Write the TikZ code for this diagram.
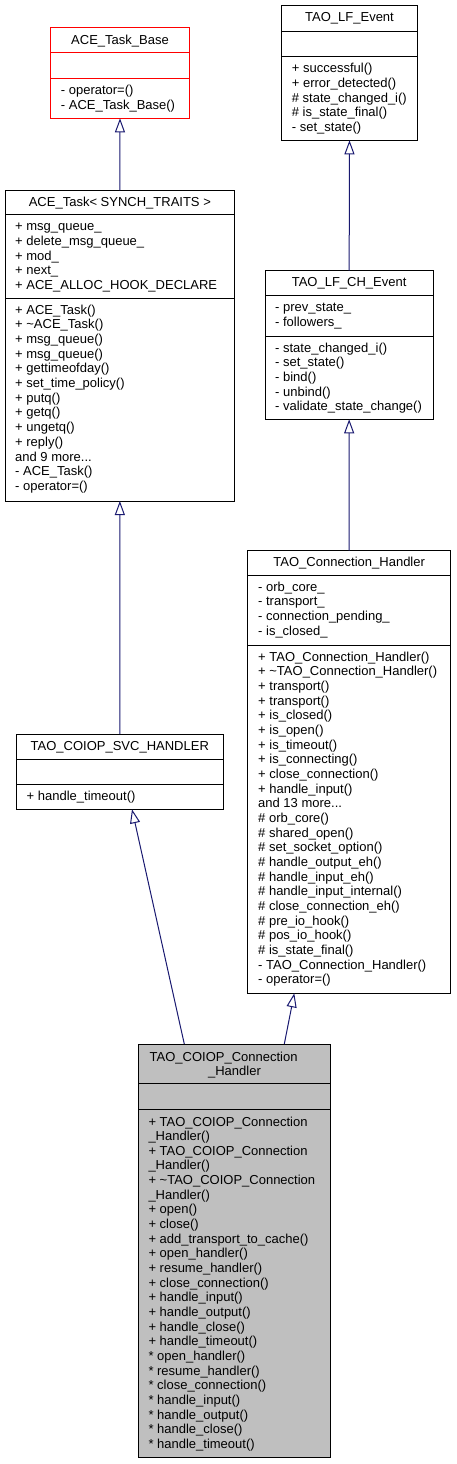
\documentclass[tikz,border=0pt]{standalone}
\usepackage{fontspec}
\setmainfont{Liberation Sans}
\usetikzlibrary{arrows.meta}
\definecolor{edgeblue}{HTML}{191970}
\definecolor{selfgray}{HTML}{BFBFBF}
\newcommand{\moredots}{...}
\tikzset{
  classbox/.style={draw, line width=1pt, inner sep=0pt, outer sep=0pt, anchor=north west},
  member/.style={anchor=base west, inner sep=0pt, font=\fontsize{13}{15}\selectfont},
  classname/.style={anchor=base, inner sep=0pt, font=\fontsize{13}{15}\selectfont},
  inherit/.style={draw=edgeblue, line width=1pt, -{Triangle[open, length=14pt, width=10pt]}},
}
\begin{document}
\begin{tikzpicture}[x=1pt, y=-1pt] %Diagrama de classes
\useasboundingbox (0,0) rectangle (456,1464);
	%ACE_Task_Base
\node[classbox, draw=red, minimum width=138.6pt, minimum height=90.3pt] (taskbase) at (50.7,28) {};
\draw[line width=1pt, red] (taskbase.west |- 0,52.7) -- (taskbase.east |- 0,52.7);
\draw[line width=1pt, red] (taskbase.west |- 0,78.7) -- (taskbase.east |- 0,78.7);
\node[classname] (taskbase-t) at (120,44.2) {ACE\_Task\_Base};
\foreach \m [count=\i from 0] in {- operator=(), - ACE\_Task\_Base()}
  \node[member] (taskbase-m\i) at (60.7,94.7+\i*14.67) {\m};
	%TAO_LF_Event
\node[classbox, minimum width=135.6pt, minimum height=134.6pt] (lfevent) at (281.7,5.7) {};
\draw[line width=1pt] (lfevent.west |- 0,31.7) -- (lfevent.east |- 0,31.7);
\draw[line width=1pt] (lfevent.west |- 0,56.7) -- (lfevent.east |- 0,56.7);
\node[classname] (lfevent-t) at (349.5,21.9) {TAO\_LF\_Event};
\foreach \m [count=\i from 0] in {+ successful(), + error\_detected(), \# state\_changed\_i(), \# is\_state\_final(), - set\_state()}
  \node[member] (lfevent-m\i) at (291.7,72.7+\i*14.67) {\m};
	%ACE_Task
\node[classbox, minimum width=229.7pt, minimum height=310.7pt] (task) at (5,190.3) {};
\draw[line width=1pt] (task.west |- 0,214.7) -- (task.east |- 0,214.7);
\draw[line width=1pt] (task.west |- 0,298.3) -- (task.east |- 0,298.3);
\node[classname] (task-t) at (119.85,206.5) {ACE\_Task< SYNCH\_TRAITS >};
\foreach \m [count=\i from 0] in {+ msg\_queue\_, + delete\_msg\_queue\_, + mod\_, + next\_, + ACE\_ALLOC\_HOOK\_DECLARE}
  \node[member] (task-a\i) at (15,230.7+\i*14.67) {\m};
\foreach \m [count=\i from 0] in {+ ACE\_Task(), + \textasciitilde ACE\_Task(), + msg\_queue(), + msg\_queue(), + gettimeofday(), + set\_time\_policy(), + putq(), + getq(), + ungetq(), + reply(), and 9 more\moredots, - ACE\_Task(), - operator=()}
  \node[member] (task-m\i) at (15,314.3+\i*14.67) {\m};
	%TAO_LF_CH_Event
\node[classbox, minimum width=168.3pt, minimum height=148.6pt] (lfchevent) at (265,270.7) {};
\draw[line width=1pt] (lfchevent.west |- 0,295.7) -- (lfchevent.east |- 0,295.7);
\draw[line width=1pt] (lfchevent.west |- 0,336) -- (lfchevent.east |- 0,336);
\node[classname] (lfchevent-t) at (349.15,286.9) {TAO\_LF\_CH\_Event};
\foreach \m [count=\i from 0] in {- prev\_state\_, - followers\_}
  \node[member] (lfchevent-a\i) at (275,311.7+\i*14.67) {\m};
\foreach \m [count=\i from 0] in {- state\_changed\_i(), - set\_state(), - bind(), - unbind(), - validate\_state\_change()}
  \node[member] (lfchevent-m\i) at (275,352+\i*14.67) {\m};
	%TAO_Connection_Handler
\node[classbox, minimum width=203pt, minimum height=442.6pt] (connhandler) at (247.7,550.7) {};
\draw[line width=1pt] (connhandler.west |- 0,575) -- (connhandler.east |- 0,575);
\draw[line width=1pt] (connhandler.west |- 0,645) -- (connhandler.east |- 0,645);
\node[classname] (connhandler-t) at (349.2,566.9) {TAO\_Connection\_Handler};
\foreach \m [count=\i from 0] in {- orb\_core\_, - transport\_, - connection\_pending\_, - is\_closed\_}
  \node[member] (connhandler-a\i) at (258,591+\i*14.67) {\m};
\foreach \m [count=\i from 0] in {+ TAO\_Connection\_Handler(), + \textasciitilde TAO\_Connection\_Handler(), + transport(), + transport(), + is\_closed(), + is\_open(), + is\_timeout(), + is\_connecting(), + close\_connection(), + handle\_input(), and 13 more\moredots, \# orb\_core(), \# shared\_open(), \# set\_socket\_option(), \# handle\_output\_eh(), \# handle\_input\_eh(), \# handle\_input\_internal(), \# close\_connection\_eh(), \# pre\_io\_hook(), \# pos\_io\_hook(), \# is\_state\_final(), - TAO\_Connection\_Handler(), - operator=()}
  \node[member] (connhandler-m\i) at (258,661+\i*14.67) {\m};
	%TAO_COIOP_SVC_HANDLER
\node[classbox, minimum width=207pt, minimum height=75.3pt] (svchandler) at (16.3,734) {};
\draw[line width=1pt] (svchandler.west |- 0,759) -- (svchandler.east |- 0,759);
\draw[line width=1pt] (svchandler.west |- 0,784.7) -- (svchandler.east |- 0,784.7);
\node[classname] (svchandler-t) at (119.8,750.2) {TAO\_COIOP\_SVC\_HANDLER};
\node[member] (svchandler-m0) at (26.5,800.7) {+ handle\_timeout()};
	%TAO_COIOP_Connection_Handler
\node[classbox, fill=selfgray, minimum width=192.4pt, minimum height=413.3pt] (coiop) at (138.3,1044) {};
\draw[line width=1pt] (coiop.west |- 0,1083.3) -- (coiop.east |- 0,1083.3);
\draw[line width=1pt] (coiop.west |- 0,1109) -- (coiop.east |- 0,1109);
\node[member] (coiop-t1) at (149.5,1061) {TAO\_COIOP\_Connection};
\node[classname] (coiop-t2) at (234.5,1075.6) {\_Handler};
\foreach \m [count=\i from 0] in {+ TAO\_COIOP\_Connection, \_Handler(), + TAO\_COIOP\_Connection, \_Handler(), + \textasciitilde TAO\_COIOP\_Connection, \_Handler(), + open(), + close(), + add\_transport\_to\_cache(), + open\_handler(), + resume\_handler(), + close\_connection(), + handle\_input(), + handle\_output(), + handle\_close(), + handle\_timeout(), * open\_handler(), * resume\_handler(), * close\_connection(), * handle\_input(), * handle\_output(), * handle\_close(), * handle\_timeout()}
  \node[member] (coiop-m\i) at (148.3,1126+\i*14.65) {\m};
	%Heranca
\draw[inherit] (task.north) -- (taskbase.south);
\draw[inherit] (lfchevent.north) -- (lfevent.south);
\draw[inherit] (connhandler.north) -- (lfchevent.south);
\draw[inherit] (svchandler.north) -- (task.south);
\draw[inherit] (coiop.north -| 184.3,0) -- (svchandler.south -| 132,0);
\draw[inherit] (coiop.north -| 284.3,0) -- (connhandler.south -| 294.3,0);
\end{tikzpicture}
\end{document}
